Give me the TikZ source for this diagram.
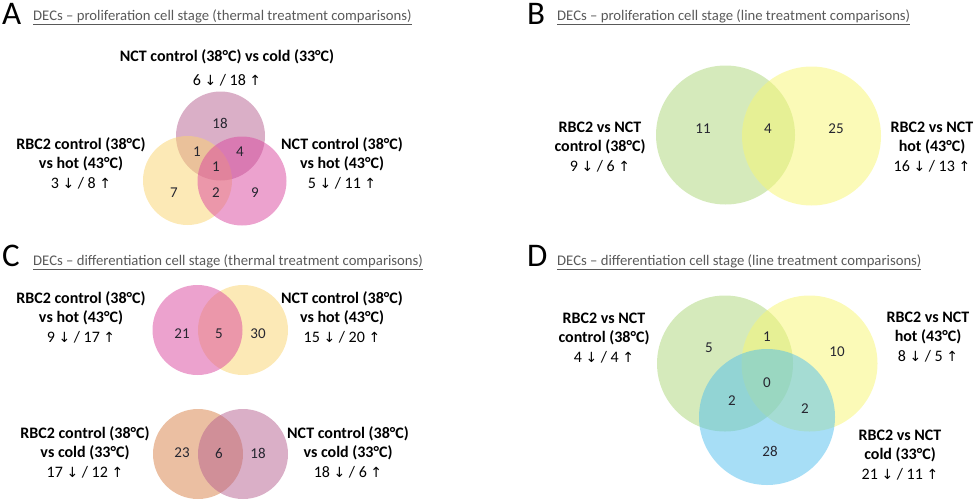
\documentclass[tikz,border=0pt]{standalone}
\usepackage{fontspec}
\setmainfont{Carlito}
\newfontfamily\arrowfont{DejaVu Sans}
\usepackage{tikz}
\definecolor{venn_mauve}{RGB}{181, 96, 143}
\definecolor{venn_pink}{RGB}{218, 70, 158}
\definecolor{venn_yellow}{RGB}{250, 212, 110}
\definecolor{venn_orange}{RGB}{215, 128, 70}
\definecolor{venn_green}{RGB}{172, 214, 120}
\definecolor{venn_lime}{RGB}{247, 246, 112}
\definecolor{venn_blue}{RGB}{80, 190, 238}
\definecolor{txt_grey}{RGB}{38, 38, 48}
\definecolor{title_grey}{RGB}{89, 89, 89}
\newcommand{\dnarr}{{\arrowfont\fontsize{14}{16}\selectfont ↓}}
\newcommand{\uparr}{{\arrowfont\fontsize{14}{16}\selectfont ↑}}
\tikzstyle{vc}=[circle,fill opacity=0.5,draw=none,inner sep=0pt]
\tikzstyle{mv}=[vc,fill=venn_mauve]
\tikzstyle{pk}=[vc,fill=venn_pink]
\tikzstyle{yl}=[vc,fill=venn_yellow]
\tikzstyle{og}=[vc,fill=venn_orange]
\tikzstyle{gr}=[vc,fill=venn_green]
\tikzstyle{lm}=[vc,fill=venn_lime]
\tikzstyle{bl}=[vc,fill=venn_blue]
\tikzstyle{num}=[text=txt_grey,font=\fontsize{15}{17}\selectfont]
\tikzstyle{lbl}=[align=center,text=black,font=\fontsize{16}{19.5}\selectfont]
\tikzstyle{ttl}=[anchor=base west,inner sep=0pt,text=title_grey,
  font=\fontsize{14.7}{17}\selectfont]
\tikzstyle{panel}=[anchor=base west,inner sep=0pt,font=\fontsize{33}{33}\selectfont]
\tikzstyle{none}=[]

\begin{document}
\begin{tikzpicture}[x=1pt, y=-1pt]
		\useasboundingbox (0, 0) rectangle (976, 501);
		% A
		\node [style=panel] (0) at (2, 24) {A};
		\node [style=ttl] (1) at (33, 20.5) {\underline{DECs – proliferation cell stage (thermal treatment comparisons)}};
		\node [style=mv, minimum size=89pt] (2) at (220.5, 136) {};
		\node [style=yl, minimum size=89pt] (3) at (187.5, 180.5) {};
		\node [style=pk, minimum size=89pt] (4) at (242, 181) {};
		\node [style=num] (5) at (220, 123) {18};
		\node [style=num] (6) at (197, 152) {1};
		\node [style=num] (7) at (240, 152) {4};
		\node [style=num] (8) at (216, 167) {1};
		\node [style=num] (9) at (174, 193) {7};
		\node [style=num] (10) at (216, 193) {2};
		\node [style=num] (11) at (255, 193) {9};
		\node [style=lbl] (12) at (227, 57) {\textbf{NCT control (38°C) vs cold (33°C)}};
		\node [style=lbl] (13) at (227, 80) {6 \dnarr{} / 18 \uparr};
		\node [style=lbl] (14) at (81, 163) {\textbf{RBC2 control (38°C)}\\\textbf{vs hot (43°C)}\\3 \dnarr{} / 8 \uparr};
		\node [style=lbl] (15) at (342, 163) {\textbf{NCT control (38°C)}\\\textbf{vs hot (43°C)}\\5 \dnarr{} / 11 \uparr};
		% B
		\node [style=panel] (16) at (527, 24) {B};
		\node [style=ttl] (17) at (557, 20.5) {\underline{DECs – proliferation cell stage (line treatment comparisons)}};
		\node [style=gr, minimum size=139pt] (18) at (725.5, 135) {};
		\node [style=lm, minimum size=139pt] (19) at (811.5, 136) {};
		\node [style=num] (20) at (703, 129) {11};
		\node [style=num] (21) at (768, 129) {4};
		\node [style=num] (22) at (836, 129) {25};
		\node [style=lbl] (23) at (600, 147) {\textbf{RBC2 vs NCT}\\\textbf{control (38°C)}\\9 \dnarr{} / 6 \uparr};
		\node [style=lbl] (24) at (932, 147) {\textbf{RBC2 vs NCT}\\\textbf{hot (43°C)}\\16 \dnarr{} / 13 \uparr};
		% C
		\node [style=panel] (25) at (2, 266) {C};
		\node [style=ttl] (26) at (33, 265) {\underline{DECs – differentiation cell stage (thermal treatment comparisons)}};
		\node [style=yl, minimum size=90pt] (27) at (243, 330) {};
		\node [style=pk, minimum size=90pt] (28) at (197.5, 330) {};
		\node [style=num] (29) at (182, 334) {21};
		\node [style=num] (30) at (219, 334) {5};
		\node [style=num] (31) at (258, 334) {30};
		\node [style=lbl] (32) at (81, 317) {\textbf{RBC2 control (38°C)}\\\textbf{vs hot (43°C)}\\9 \dnarr{} / 17 \uparr};
		\node [style=lbl] (33) at (342, 317) {\textbf{NCT control (38°C)}\\\textbf{vs hot (43°C)}\\15 \dnarr{} / 20 \uparr};
		\node [style=og, minimum size=90pt] (34) at (198, 454) {};
		\node [style=mv, minimum size=90pt] (35) at (243, 454) {};
		\node [style=num] (36) at (182, 453) {23};
		\node [style=num] (37) at (219, 453) {6};
		\node [style=num] (38) at (258, 453) {18};
		\node [style=lbl] (39) at (85, 452) {\textbf{RBC2 control (38°C)}\\\textbf{vs cold (33°C)}\\17 \dnarr{} / 12 \uparr};
		\node [style=lbl] (40) at (348, 452) {\textbf{NCT control (38°C)}\\\textbf{vs cold (33°C)}\\18 \dnarr{} / 6 \uparr};
		% D
		\node [style=panel] (41) at (527, 266) {D};
		\node [style=ttl] (42) at (557, 265) {\underline{DECs – differentiation cell stage (line treatment comparisons)}};
		\node [style=gr, minimum size=136pt] (43) at (725, 363.5) {};
		\node [style=lm, minimum size=136pt] (44) at (809.5, 363.5) {};
		\node [style=bl, minimum size=136pt] (45) at (767, 417) {};
		\node [style=num] (46) at (709, 348) {5};
		\node [style=num] (47) at (767, 337) {1};
		\node [style=num] (48) at (837, 352) {10};
		\node [style=num] (49) at (767, 383) {0};
		\node [style=num] (50) at (732, 401) {2};
		\node [style=num] (51) at (805, 409) {2};
		\node [style=num] (52) at (770, 451) {28};
		\node [style=lbl] (53) at (604, 338) {\textbf{RBC2 vs NCT}\\\textbf{control (38°C)}\\4 \dnarr{} / 4 \uparr};
		\node [style=lbl] (54) at (928, 337) {\textbf{RBC2 vs NCT}\\\textbf{hot (43°C)}\\8 \dnarr{} / 5 \uparr};
		\node [style=lbl] (55) at (900, 455) {\textbf{RBC2 vs NCT}\\\textbf{cold (33°C)}\\21 \dnarr{} / 11 \uparr};
\end{tikzpicture}
\end{document}
